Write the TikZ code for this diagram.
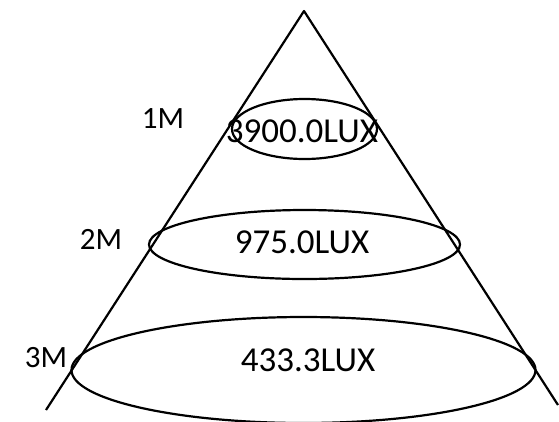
\documentclass[tikz,border=0pt]{standalone}
\usepackage{fontspec}
\setmainfont{Carlito}
\usepackage{tikz}

\begin{document}
\begin{tikzpicture}[
  x=1pt, y=-1pt,
  cone/.style={line width=2.2pt, line join=round},
  ring/.style={line width=2.2pt},
  dist/.style={font=\fontsize{31}{37}\selectfont, inner sep=0pt},
  lux/.style={font=\fontsize{35}{42}\selectfont, inner sep=0pt}
]
  \useasboundingbox (0,0) rectangle (559,421);

  \coordinate (apex) at (304,11);
  \coordinate (lfoot) at (46,410);
  \coordinate (rfoot) at (558,405);
  \draw[cone] (lfoot) -- (apex) -- (rfoot);

  \draw[ring] (304.5,129) ellipse (72.5 and 30);
  \draw[ring] (304.5,244.5) ellipse (155.5 and 34.5);
  \draw[ring] (303.5,370) ellipse (232 and 53);

  \node[dist] (d1) at (163,118.5) {1M};
  \node[lux]  (l1) at (302,131) {3900.0LUX};
  \node[dist] (d2) at (101,239) {2M};
  \node[lux]  (l2) at (302,242) {975.0LUX};
  \node[dist] (d3) at (46,358) {3M};
  \node[lux]  (l3) at (308,360) {433.3LUX};
\end{tikzpicture}
\end{document}
